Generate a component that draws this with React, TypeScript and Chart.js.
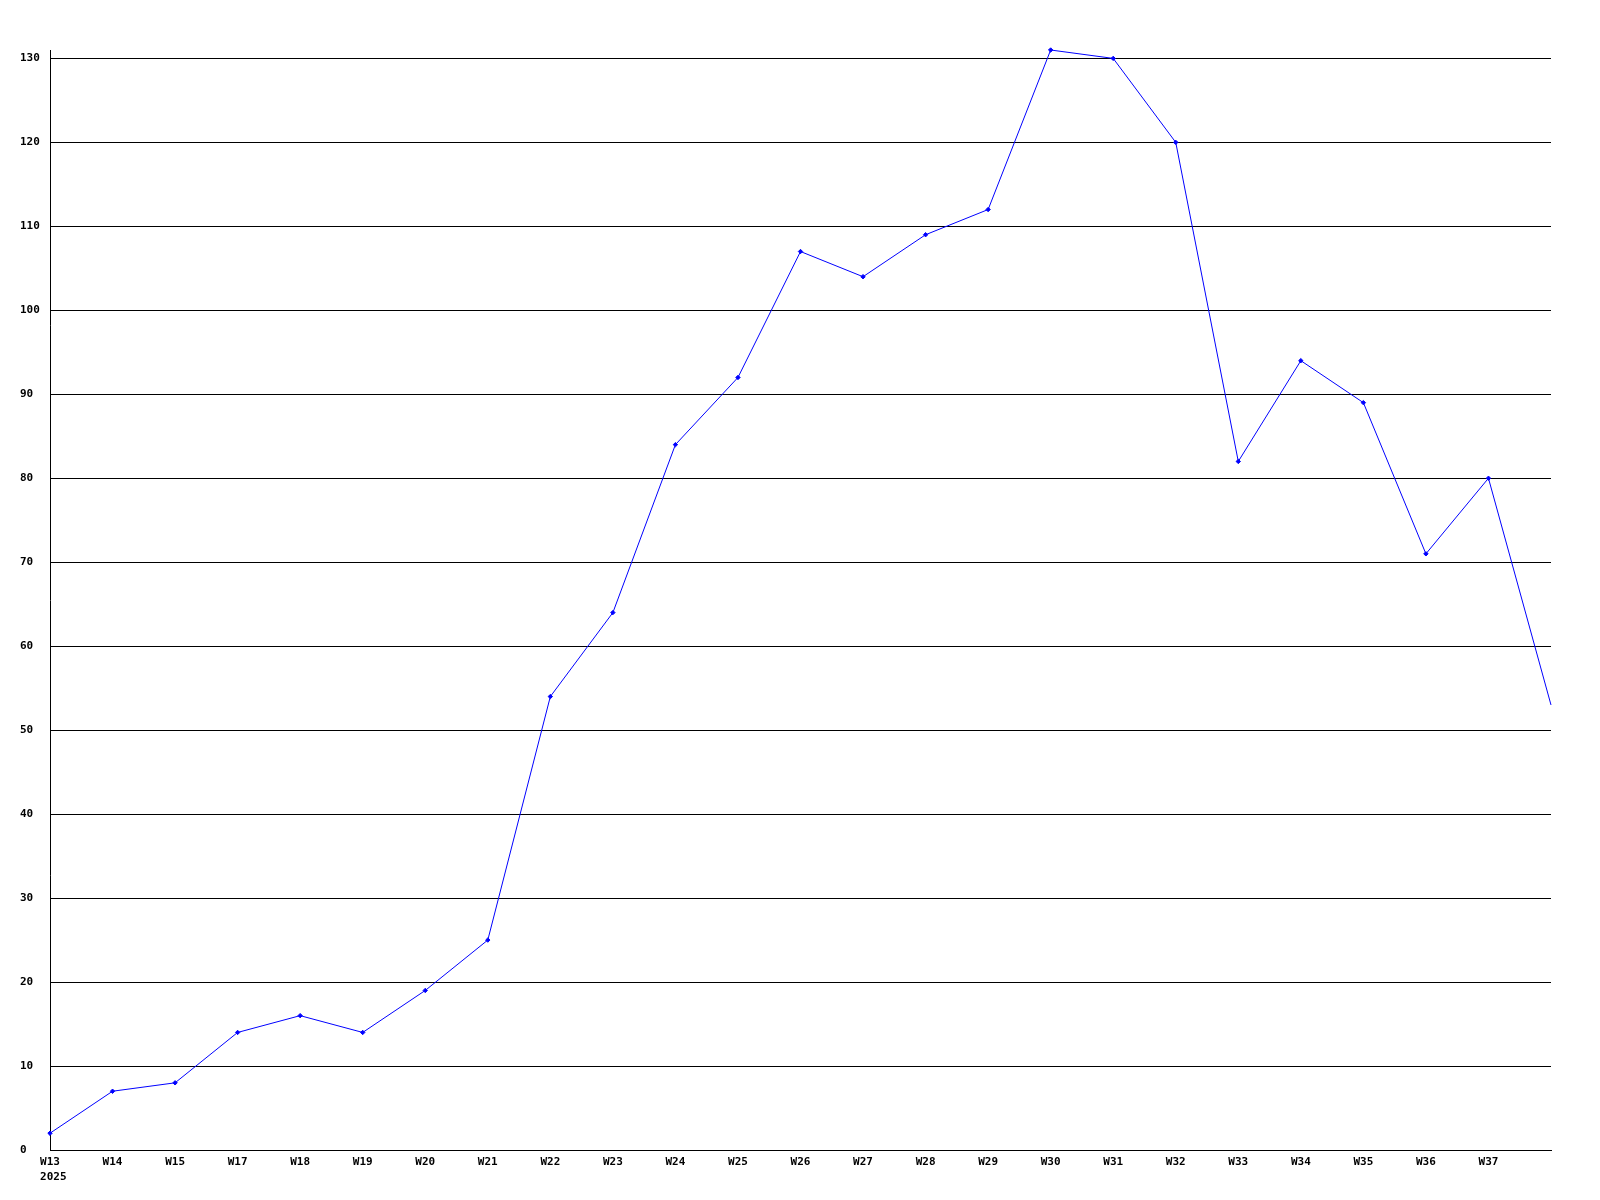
import React, { useEffect, useRef } from "react";
import { Chart, registerables } from "chart.js";

Chart.register(...registerables);

const weekLabels: (string | string[])[] = [
  ["W13", " 2025"], "W14", "W15", "W17", "W18", "W19", "W20", "W21", "W22", "W23",
  "W24", "W25", "W26", "W27", "W28", "W29", "W30", "W31", "W32", "W33",
  "W34", "W35", "W36", "W37", "",
];

const seriesValues: number[] = [
  2, 7, 8, 14, 16, 14, 19, 25, 54, 64,
  84, 92, 107, 104, 109, 112, 131, 130, 120, 82,
  94, 89, 71, 80, 53,
];

const yTickValues: number[] = [0, 10, 20, 30, 40, 50, 60, 70, 80, 90, 100, 110, 120, 130];
const yMin = 0;
const yMax = 131;

export default function App() {
  const ref = useRef<HTMLCanvasElement | null>(null);

  useEffect(() => {
    if (!ref.current) return;
    const font = { family: "'DejaVu Sans Mono', monospace", size: 11, weight: "bold" as const, lineHeight: 1.32 };
    const chart = new Chart(ref.current, {
      type: "line",
      data: {
        labels: weekLabels,
        datasets: [
          {
            data: seriesValues,
            borderColor: "#0000ff",
            backgroundColor: "#0000ff",
            borderWidth: 1,
            pointStyle: "rectRot",
            pointRadius: (ctx: any) => (ctx.dataIndex === seriesValues.length - 1 ? 0 : 2.2),
            pointBorderWidth: 1,
            tension: 0,
            fill: false,
            clip: false,
          },
        ],
      },
      options: {
        animation: false,
        responsive: false,
        maintainAspectRatio: false,
        layout: { padding: { left: 20, right: 49, top: 50, bottom: 0 } },
        plugins: { legend: { display: false }, tooltip: { enabled: false } },
        scales: {
          x: {
            type: "category",
            offset: false,
            grid: { display: false, drawTicks: false },
            border: { display: true, color: "#000", width: 1 },
            ticks: {
              color: "#000",
              font,
              padding: 5,
              maxRotation: 0,
              autoSkip: false,
            },
            afterFit: (s: any) => {
              s.height = 50;
            },
          },
          y: {
            min: yMin,
            max: yMax,
            grid: { color: "#000", lineWidth: 1, drawTicks: false },
            border: { display: true, color: "#000", width: 1 },
            ticks: {
              color: "#000",
              font,
              crossAlign: "far",
              padding: 0,
            },
            afterBuildTicks: (s: any) => {
              s.ticks = yTickValues.map((v) => ({ value: v }));
            },
            afterFit: (s: any) => {
              s.width = 30;
            },
          },
        },
      },
    });
    return () => chart.destroy();
  }, []);

  return (
    <div style={{ position: "absolute", left: 0, top: 0, width: 1600, height: 1200, background: "#fff" }}>
      <canvas ref={ref} width={1600} height={1200} style={{ width: 1600, height: 1200, display: "block" }} />
    </div>
  );
}
